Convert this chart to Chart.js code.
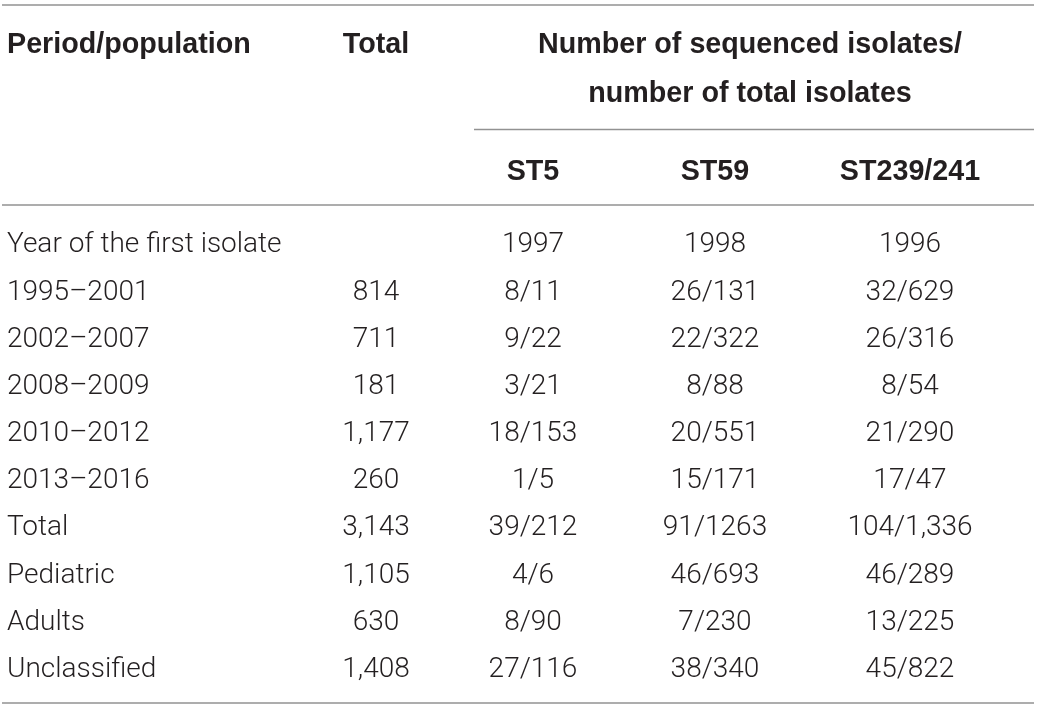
<!DOCTYPE html>
<html>
<head>
<meta charset="utf-8">
<script src="https://cdn.jsdelivr.net/npm/chart.js@4.4.0/dist/chart.umd.min.js"></script>
<style>
  html, body { margin: 0; padding: 0; background: #ffffff; }
  #wrap { width: 1040px; height: 709px; position: relative; }
</style>
</head>
<body>
<div id="wrap"><canvas id="tabla"></canvas></div>
<script>
// table content
var columnHeaders = ["Period/population", "Total", "ST5", "ST59", "ST239/241"];
var groupHeader = ["Number of sequenced isolates/", "number of total isolates"];
var periods = ["Year of the first isolate", "1995–2001", "2002–2007", "2008–2009", "2010–2012",
               "2013–2016", "Total", "Pediatric", "Adults", "Unclassified"];
var totals = ["", "814", "711", "181", "1,177", "260", "3,143", "1,105", "630", "1,408"];
var st5 = ["1997", "8/11", "9/22", "3/21", "18/153", "1/5", "39/212", "4/6", "8/90", "27/116"];
var st59 = ["1998", "26/131", "22/322", "8/88", "20/551", "15/171", "91/1263", "46/693", "7/230", "38/340"];
var st239 = ["1996", "32/629", "26/316", "8/54", "21/290", "17/47", "104/1,336", "46/289", "13/225", "45/822"];

// layout of the table (x in table units, y in row units: data row i sits at i)
var layout = {
  colX: [7, 376, 533, 715, 910],
  colAlign: ["left", "center", "center", "center", "center"],
  groupX: 750,
  headRow1: -4.23,
  headRow2: -3.19,
  subHeadRow: -1.54,
  rules: [
    { y: -5.035, from: 2, to: 1034 },
    { y: -2.396, from: 474, to: 1034 },
    { y: -0.795, from: 2, to: 1034 },
    { y: 9.763, from: 2, to: 1034 }
  ],
  bodyFont: { family: "Roboto", weight: "300", size: 28 },
  headFont: { family: "Liberation Sans", weight: "bold", size: 28.7 },
  textColor: "#231f20",
  ruleColor: "#929292"
};

var columns = [periods, totals, st5, st59, st239];

function fontString(f) {
  return f.weight + " " + f.size + "px '" + f.family + "'";
}

// draw one text centred vertically on its cap height
function drawText(ctx, text, px, py, font, align) {
  ctx.font = fontString(font);
  ctx.textAlign = align;
  ctx.textBaseline = "alphabetic";
  ctx.fillText(text, px, py + font.size * 0.355);
}

var tablePlugin = {
  id: "tablePlugin",
  afterDatasetsDraw: function (chart) {
    var ctx = chart.ctx;
    var xs = chart.scales.x;
    var ys = chart.scales.y;
    ctx.save();
    ctx.fillStyle = layout.textColor;

    // horizontal rules
    ctx.strokeStyle = layout.ruleColor;
    ctx.lineWidth = 1.6;
    layout.rules.forEach(function (r) {
      var py = ys.getPixelForValue(r.y);
      ctx.beginPath();
      ctx.moveTo(xs.getPixelForValue(r.from), py);
      ctx.lineTo(xs.getPixelForValue(r.to), py);
      ctx.stroke();
    });

    // headers
    var hy = ys.getPixelForValue(layout.headRow1);
    drawText(ctx, columnHeaders[0], xs.getPixelForValue(layout.colX[0]), hy, layout.headFont, "left");
    drawText(ctx, columnHeaders[1], xs.getPixelForValue(layout.colX[1]), hy, layout.headFont, "center");
    drawText(ctx, groupHeader[0], xs.getPixelForValue(layout.groupX), hy, layout.headFont, "center");
    drawText(ctx, groupHeader[1], xs.getPixelForValue(layout.groupX), ys.getPixelForValue(layout.headRow2), layout.headFont, "center");
    for (var c = 2; c < columnHeaders.length; c++) {
      drawText(ctx, columnHeaders[c], xs.getPixelForValue(layout.colX[c]), ys.getPixelForValue(layout.subHeadRow), layout.headFont, "center");
    }

    // body cells, placed at the points of each dataset
    chart.data.datasets.forEach(function (ds, di) {
      var meta = chart.getDatasetMeta(di);
      meta.data.forEach(function (pt, i) {
        var txt = ds.cellText[i];
        if (txt) {
          drawText(ctx, txt, pt.x, pt.y, layout.bodyFont, layout.colAlign[di]);
        }
      });
    });
    ctx.restore();
  }
};

var datasets = columns.map(function (col, c) {
  return {
    label: columnHeaders[c],
    data: col.map(function (v, i) { return { x: layout.colX[c], y: i }; }),
    cellText: col,
    pointRadius: 0,
    pointHoverRadius: 0,
    showLine: false
  };
});

new Chart(document.getElementById("tabla").getContext("2d"), {
  type: "scatter",
  data: { datasets: datasets },
  options: {
    responsive: true,
    maintainAspectRatio: false,
    animation: false,
    events: [],
    layout: { padding: 0 },
    plugins: { legend: { display: false }, tooltip: { enabled: false } },
    scales: {
      x: { type: "linear", display: false, min: 0, max: 1040 },
      y: { type: "linear", display: false, reverse: true, min: -5.141, max: 9.890 }
    }
  },
  plugins: [tablePlugin]
});
</script>
</body>
</html>
